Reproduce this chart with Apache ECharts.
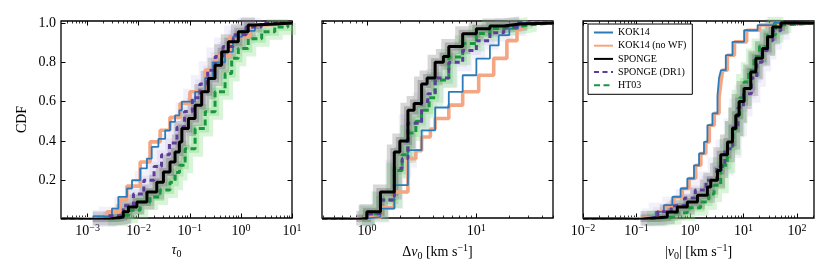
<!DOCTYPE html>
<html><head><meta charset="utf-8">
<script src="https://cdn.jsdelivr.net/npm/echarts@6/dist/echarts.min.js"></script>
<style>html,body{margin:0;padding:0;background:#fff}#c{width:830px;height:277px}</style>
</head><body><div id="c"></div>
<script>
// ---------- DATA: [value, CDF] step points ----------
// Panel 1: tau_0
const tauKOK14 = [[3e-4,0],[6.3e-4,0.004],[1.3e-3,0.016],[3.0e-3,0.056],[4.0e-3,0.115],[5.9e-3,0.158],[7.4e-3,0.2],[0.0107,0.26],[0.0145,0.31],[0.018,0.37],[0.0243,0.41],[0.033,0.454],[0.041,0.497],[0.0515,0.53],[0.0625,0.556],[0.07,0.6],[0.127,0.65],[0.2,0.72],[0.285,0.8],[0.49,0.853],[0.70,0.93],[1.05,0.96],[1.88,0.99],[4.6,1.0],[10,1.0]];
const tauKOK14noWF = [[3e-4,0],[5e-4,0.005],[1.26e-3,0.012],[2.4e-3,0.04],[4.3e-3,0.10],[5.9e-3,0.17],[0.0107,0.293],[0.0167,0.395],[0.0263,0.454],[0.041,0.52],[0.0646,0.59],[0.101,0.65],[0.2,0.76],[0.312,0.83],[0.612,0.93],[1.5,0.99],[3.2,1.0],[10,1.0]];
const tauSPONGE = [[3e-4,0],[1.26e-3,0.003],[2.8e-3,0.013],[5.0e-3,0.04],[6.3e-3,0.064],[9.2e-3,0.09],[0.0145,0.14],[0.0226,0.19],[0.0305,0.242],[0.041,0.293],[0.0515,0.344],[0.0625,0.395],[0.07,0.463],[0.094,0.514],[0.127,0.582],[0.171,0.65],[0.23,0.718],[0.312,0.785],[0.42,0.853],[0.566,0.904],[0.89,0.955],[1.39,0.99],[1.88,1.0],[10,1.0]];
const tauDR1 = [[3e-4,0],[1.26e-3,0.003],[2.5e-3,0.02],[5e-3,0.07],[7.9e-3,0.13],[0.0126,0.2],[0.02,0.27],[0.028,0.33],[0.04,0.39],[0.056,0.47],[0.079,0.55],[0.112,0.62],[0.158,0.69],[0.224,0.76],[0.316,0.83],[0.447,0.88],[0.708,0.94],[1.26,0.98],[2.5,1.0],[10,1.0]];
const tauHT03 = [[3e-4,0],[2.5e-3,0.005],[4.3e-3,0.022],[6.8e-3,0.047],[0.0107,0.09],[0.0167,0.115],[0.0263,0.15],[0.041,0.19],[0.0515,0.24],[0.063,0.276],[0.081,0.36],[0.127,0.463],[0.2,0.548],[0.312,0.65],[0.49,0.743],[0.66,0.82],[0.89,0.87],[1.39,0.92],[2.55,0.955],[4.6,0.98],[8.3,1.0],[10,1.0]];
// Panel 2: Delta v_0 [km/s]
const dvKOK14 = [[0.39,0],[0.6,0.003],[0.9,0.006],[1.0,0.012],[1.33,0.056],[1.78,0.175],[2.37,0.353],[3.16,0.454],[4.2,0.57],[5.6,0.65],[7.5,0.734],[10,0.819],[13.3,0.886],[16,0.938],[20,0.97],[24,1.0],[51,1.0]];
const dvKOK14noWF = [[0.39,0],[0.6,0.004],[0.9,0.008],[1.0,0.012],[1.33,0.06],[1.78,0.14],[2.37,0.31],[2.8,0.35],[3.16,0.42],[3.8,0.46],[4.2,0.514],[5.6,0.582],[7.5,0.65],[10.5,0.734],[14.4,0.82],[19,0.91],[23.5,0.97],[26.5,1.0],[51,1.0]];
const dvSPONGE = [[0.39,0],[0.8,0.005],[1.0,0.04],[1.33,0.14],[1.78,0.344],[2.0,0.40],[2.37,0.556],[2.7,0.59],[3.16,0.69],[3.55,0.72],[4.2,0.80],[5.0,0.83],[5.6,0.88],[7.5,0.945],[10,0.97],[13.3,0.985],[17.8,0.995],[25,1.0],[51,1.0]];
const dvDR1 = [[0.39,0],[0.9,0.005],[1.0,0.03],[1.33,0.10],[1.78,0.26],[2.1,0.31],[2.37,0.49],[3.16,0.6],[3.6,0.64],[4.2,0.72],[5.6,0.80],[7.5,0.86],[10,0.91],[13.3,0.95],[17.8,0.98],[23.7,1.0],[51,1.0]];
const dvHT03 = [[0.39,0],[0.9,0.005],[1.0,0.03],[1.33,0.1],[1.78,0.25],[2.1,0.33],[2.37,0.44],[2.8,0.5],[3.16,0.556],[3.7,0.62],[4.2,0.71],[5.6,0.827],[7.5,0.896],[10,0.947],[13.3,0.972],[17.8,0.98],[23.7,0.99],[30,1.0],[51,1.0]];
// Panel 3: |v_0| [km/s]
const vKOK14 = [[0.01,0],[0.05,0.003],[0.103,0.013],[0.228,0.039],[0.325,0.073],[0.468,0.115],[0.668,0.158],[0.893,0.209],[1.19,0.276],[1.48,0.336],[1.83,0.395],[2.12,0.48],[2.63,0.54],[3.27,0.63],[3.5,0.72],[3.8,0.76],[4.68,0.836],[6.24,0.904],[10.3,0.963],[18.4,0.989],[37,1.0],[209,1.0]];
const vKOK14noWF = [[0.01,0],[0.06,0.004],[0.112,0.013],[0.245,0.039],[0.35,0.073],[0.5,0.115],[0.72,0.158],[0.96,0.209],[1.28,0.276],[1.6,0.336],[1.98,0.395],[2.3,0.48],[2.85,0.54],[3.5,0.62],[3.8,0.70],[4.1,0.76],[5.0,0.836],[6.8,0.904],[11.5,0.963],[20,0.99],[40,1.0],[209,1.0]];
const vSPONGE = [[0.01,0],[0.119,0.005],[0.183,0.013],[0.377,0.039],[0.58,0.064],[0.893,0.09],[1.38,0.124],[2.12,0.166],[2.45,0.2],[3.27,0.25],[3.77,0.33],[5.04,0.395],[6.24,0.463],[7.2,0.53],[8.3,0.6],[10.3,0.667],[13.7,0.75],[17.1,0.82],[22.8,0.87],[28.3,0.93],[35.2,0.98],[50.4,1.0],[209,1.0]];
const vDR1 = [[0.01,0],[0.126,0.01],[0.25,0.04],[0.447,0.07],[0.794,0.11],[1.26,0.15],[2.0,0.2],[3.16,0.27],[4.47,0.36],[6.3,0.47],[7.9,0.57],[10,0.64],[14.1,0.72],[17.8,0.8],[22.4,0.86],[28.2,0.91],[35.5,0.96],[50,1.0],[209,1.0]];
const vHT03 = [[0.01,0],[0.158,0.005],[0.229,0.013],[0.5,0.035],[0.89,0.06],[1.58,0.09],[2.24,0.13],[2.82,0.175],[3.77,0.276],[5.0,0.37],[6.3,0.46],[7.4,0.53],[8.5,0.62],[10.3,0.70],[12.6,0.76],[15.8,0.83],[20,0.88],[28.2,0.94],[39.8,0.99],[56,1.0],[209,1.0]];

const seriesNames = ['KOK14','KOK14 (no WF)','SPONGE','SPONGE (DR1)','HT03'];
const yTicks = [0.2,0.4,0.6,0.8,1.0];
const xMajor = [[-3,-2,-1,0,1],[0,1],[-2,-1,0,1,2]];   // log10 of decade ticks
const xRange = [[-3.52,1.0],[-0.41,1.70],[-2.0,2.32]];  // log10 axis limits
const yRange = [0.008,1.01];
// ---------------------------------------------------------------------------

const FONT = 'Liberation Serif';
const panels = [
  {KOK14:tauKOK14,'KOK14 (no WF)':tauKOK14noWF,SPONGE:tauSPONGE,'SPONGE (DR1)':tauDR1,HT03:tauHT03},
  {KOK14:dvKOK14,'KOK14 (no WF)':dvKOK14noWF,SPONGE:dvSPONGE,'SPONGE (DR1)':dvDR1,HT03:dvHT03},
  {KOK14:vKOK14,'KOK14 (no WF)':vKOK14noWF,SPONGE:vSPONGE,'SPONGE (DR1)':vDR1,HT03:vHT03}
];
const styles = {
  'KOK14':        {color:'#2b7bba', width:1.8, type:'solid'},
  'KOK14 (no WF)':{color:'#f4a582', width:3.6, type:'solid'},
  'SPONGE':       {color:'#000000', width:3.0, type:'solid'},
  'SPONGE (DR1)': {color:'#5e3c99', width:3.0, type:[5,3.5]},
  'HT03':         {color:'#1a9641', width:3.0, type:[6,3.5]}
};
// translucent bootstrap envelopes (drawn as soft wide strokes: outer + inner)
const bands = [
  {of:'SPONGE (DR1)', color:'rgba(160,150,220,0.14)', width:18},
  {of:'SPONGE (DR1)', color:'rgba(160,150,220,0.14)', width:9},
  {of:'HT03', color:'rgba(130,220,130,0.30)', width:16},
  {of:'HT03', color:'rgba(130,220,130,0.38)', width:8},
  {of:'SPONGE', color:'rgba(100,100,100,0.26)', width:15},
  {of:'SPONGE', color:'rgba(100,100,100,0.34)', width:8}
];
const drawOrder = ['KOK14 (no WF)','KOK14','HT03','SPONGE (DR1)','SPONGE'];

const gridsPos = [61,322,583].map(l => ({left:l, top:21, width:231, height:197, show:true, borderColor:'#000', borderWidth:1.3, backgroundColor:'transparent'}));

function minors(r){
  const out=[];
  for(let n=Math.floor(r[0]); n<=Math.ceil(r[1]); n++)
    for(let k=2;k<=9;k++){ const v=n+Math.log10(k); if(v>r[0] && v<r[1]) out.push(v); }
  return out;
}
const supRich = {
  b:{fontSize:14, fontFamily:FONT, color:'#000'},
  s:{fontSize:10, fontFamily:FONT, color:'#000', padding:[0,0,7,0]}
};
function decLabel(v){
  const n = Math.round(v);
  return '{b|10}{s|' + (n<0 ? '\u2212'+(-n) : n) + '}';
}
const nameRich = {
  r:{fontSize:14, fontFamily:FONT, color:'#000'},
  i:{fontSize:14, fontFamily:FONT, fontStyle:'italic', color:'#000'},
  sub:{fontSize:10, fontFamily:FONT, color:'#000', padding:[8,0,0,0]},
  sup:{fontSize:10, fontFamily:FONT, color:'#000', padding:[0,0,7,0]}
};
const xNames = [
  '{i|\u03c4}{sub|0}',
  '{r|\u0394}{i|v}{sub|0}{r| [km s}{sup|\u22121}{r|]}',
  '{r||}{i|v}{sub|0}{r|| [km s}{sup|\u22121}{r|]}'
];

const xAxis = [], yAxis = [];
for (let g=0; g<3; g++){
  const base = {gridIndex:g, type:'value', min:xRange[g][0], max:xRange[g][1],
    axisLine:{show:false, onZero:false}, splitLine:{show:false}};
  xAxis.push(Object.assign({}, base, {position:'bottom',
    axisTick:{show:true, inside:true, length:4.5, customValues:xMajor[g], lineStyle:{color:'#000', width:1}},
    axisLabel:{show:true, customValues:xMajor[g], formatter:decLabel, rich:supRich, margin:5, hideOverlap:false},
    name:xNames[g], nameLocation:'middle', nameGap:21,
    nameTextStyle:{rich:nameRich, fontFamily:FONT, fontSize:14, color:'#000'}}));
  xAxis.push(Object.assign({}, base, {position:'top',
    axisTick:{show:true, inside:true, length:4.5, customValues:xMajor[g], lineStyle:{color:'#000', width:1}},
    axisLabel:{show:false}}));
  xAxis.push(Object.assign({}, base, {position:'bottom',
    axisTick:{show:true, inside:true, length:2.5, customValues:minors(xRange[g]), lineStyle:{color:'#000', width:0.8}},
    axisLabel:{show:false}}));
  xAxis.push(Object.assign({}, base, {position:'top',
    axisTick:{show:true, inside:true, length:2.5, customValues:minors(xRange[g]), lineStyle:{color:'#000', width:0.8}},
    axisLabel:{show:false}}));
  const yb = {gridIndex:g, type:'value', min:yRange[0], max:yRange[1],
    axisLine:{show:false, onZero:false}, splitLine:{show:false},
    axisTick:{show:true, inside:true, length:4.5, customValues:yTicks, lineStyle:{color:'#000', width:1}}};
  yAxis.push(Object.assign({}, yb, {position:'left',
    axisLabel:{show:g===0, customValues:yTicks, formatter:v=>v.toFixed(1), fontFamily:FONT, fontSize:14, color:'#000', margin:5},
    name: g===0 ? 'CDF' : '', nameLocation:'middle', nameGap:32, nameRotate:90,
    nameTextStyle:{fontFamily:FONT, fontSize:14, color:'#000'}}));
  yAxis.push(Object.assign({}, yb, {position:'right', axisLabel:{show:false}}));
}

const toLog = pts => pts.map(p => [Math.log10(p[0]), p[1]]);
const series = [];
for (let g=0; g<3; g++){
  bands.forEach(b => series.push({
    name:'band '+b.of, type:'line', xAxisIndex:4*g, yAxisIndex:2*g, step:'end',
    data:toLog(panels[g][b.of].slice(1, -1)), symbol:'none', silent:true, z:1,
    lineStyle:{color:b.color, width:b.width, cap:'butt', join:'miter'}
  }));
}
for (let g=0; g<3; g++){
  drawOrder.forEach(nm => {
    const s = styles[nm];
    series.push({
      name:nm, type:'line', xAxisIndex:4*g, yAxisIndex:2*g, step:'end',
      data:toLog(panels[g][nm]), symbol:'none', silent:true, z:2,
      itemStyle:{color:s.color},
      lineStyle:{color:s.color, width:s.width, type:s.type, cap:'butt'}
    });
  });
}

const chart = echarts.init(document.getElementById('c'), null, {renderer:'canvas'});
chart.setOption({
  animation:false,
  backgroundColor:'#fff',
  grid:gridsPos,
  xAxis, yAxis, series,
  legend:{data:seriesNames, orient:'vertical', left:588, top:24,
    itemWidth:19, itemHeight:10, itemGap:3.2, padding:[3.5,6,4,5],
    backgroundColor:'#fff', borderColor:'#000', borderWidth:1, borderRadius:0,
    selectedMode:false,
    itemStyle:{color:'transparent', borderWidth:0, opacity:0},
    textStyle:{fontFamily:FONT, fontSize:10, color:'#000'}}
});
</script></body></html>
